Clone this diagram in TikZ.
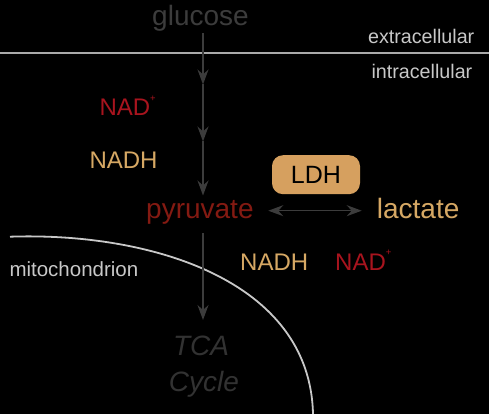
\documentclass[tikz,border=0pt]{standalone}
\usepackage{fontspec}
\setmainfont{Liberation Sans}
\usepackage{tikz}
\usetikzlibrary{arrows.meta, positioning}
\usepackage{xcolor}
\definecolor{nadred}{RGB}{168,20,30}
\definecolor{pyrred}{RGB}{132,26,18}
\definecolor{tan}{RGB}{214,168,100}
\definecolor{boxtan}{RGB}{214,160,95}
\definecolor{dimgray}{RGB}{60,60,60}
\definecolor{tcagray}{RGB}{50,50,50}
\definecolor{lightgray}{RGB}{200,200,200}
\definecolor{linegray}{RGB}{170,170,170}
\newcommand{\fsz}[1]{\fontsize{#1}{#1}\selectfont}
\newcommand{\plus}{\raisebox{1.15ex}{\fsz{9.5}+}}
\tikzset{
  lbl/.style={inner sep=0pt, anchor=base},
  flux/.style={draw=dimgray, line width=1.4pt, >={Stealth[length=15pt, width=11pt, inset=5pt]}, ->},
}

\begin{document}
\begin{tikzpicture}[x=1pt, y=-1pt]
  \fill[black] (0,0) rectangle (489,414);
  \useasboundingbox (0,0) rectangle (489,414);
  % membrane
  \draw[linegray, line width=2pt] (0,53.3) -- (489,53.3);
  \node[lbl, anchor=base east, lightgray, font=\fsz{19.7}] (extra) at (474.5,43.3) {extracellular};
  \node[lbl, anchor=base east, lightgray, font=\fsz{19.7}] (intra) at (472.5,78.5) {intracellular};
  % glycolysis
  \node[lbl, dimgray, font=\fsz{28}] (glc) at (200.5,26) {glucose};
  \coordinate (g0) at (203,33.3);
  \coordinate (g1) at (203,84.5);
  \coordinate (g2) at (203,141.5);
  \coordinate (g3) at (203,195.5);
  \node[lbl, anchor=base west, nadred, font=\fsz{24}] (nadA) at (99.3,115.7) {NAD\plus};
  \node[lbl, anchor=base west, tan, font=\fsz{24}] (nadhA) at (89.3,168.3) {NADH};
  \node[lbl, anchor=base west, pyrred, font=\fsz{28}] (pyr) at (146,218.3) {pyruvate};
  \node[lbl, anchor=base west, tan, font=\fsz{28}] (lac) at (376.7,218.3) {lactate};
  \node[fill=boxtan, rounded corners=11pt, minimum width=88pt, minimum height=39pt,
        inner sep=0pt, font=\fsz{25}, text=black] (ldh) at (316,174.7) {LDH};
  \coordinate (l0) at (268.3,210.7);
  \coordinate (l1) at (361.7,210.7);
  \draw[flux] (g0) -- (g1);
  \draw[flux] (g1) -- (g2);
  \draw[flux] (g2) -- (g3);
  \draw[flux, <->] (l0) -- (l1);
  % mitochondrion
  \draw[lightgray, line width=1.8pt] (10,236.7) .. controls (150,232) and (310,280) .. (313,414);
  \node[lbl, anchor=base west, lightgray, font=\fsz{20.5}] (mito) at (9.3,276) {mitochondrion};
  \node[lbl, anchor=base west, tan, font=\fsz{24}] (nadhB) at (240,270) {NADH};
  \node[lbl, anchor=base west, nadred, font=\fsz{24}] (nadB) at (335,270) {NAD\plus};
  \node[lbl, tcagray, font=\fsz{28}\itshape] (tca) at (201,355) {TCA};
  \node[lbl, tcagray, font=\fsz{28}\itshape] (cyc) at (204,391) {Cycle};
  \coordinate (p0) at (203,233.3);
  \coordinate (t1) at (203,320);
  \draw[flux] (p0) -- (t1);
\end{tikzpicture}
\end{document}
